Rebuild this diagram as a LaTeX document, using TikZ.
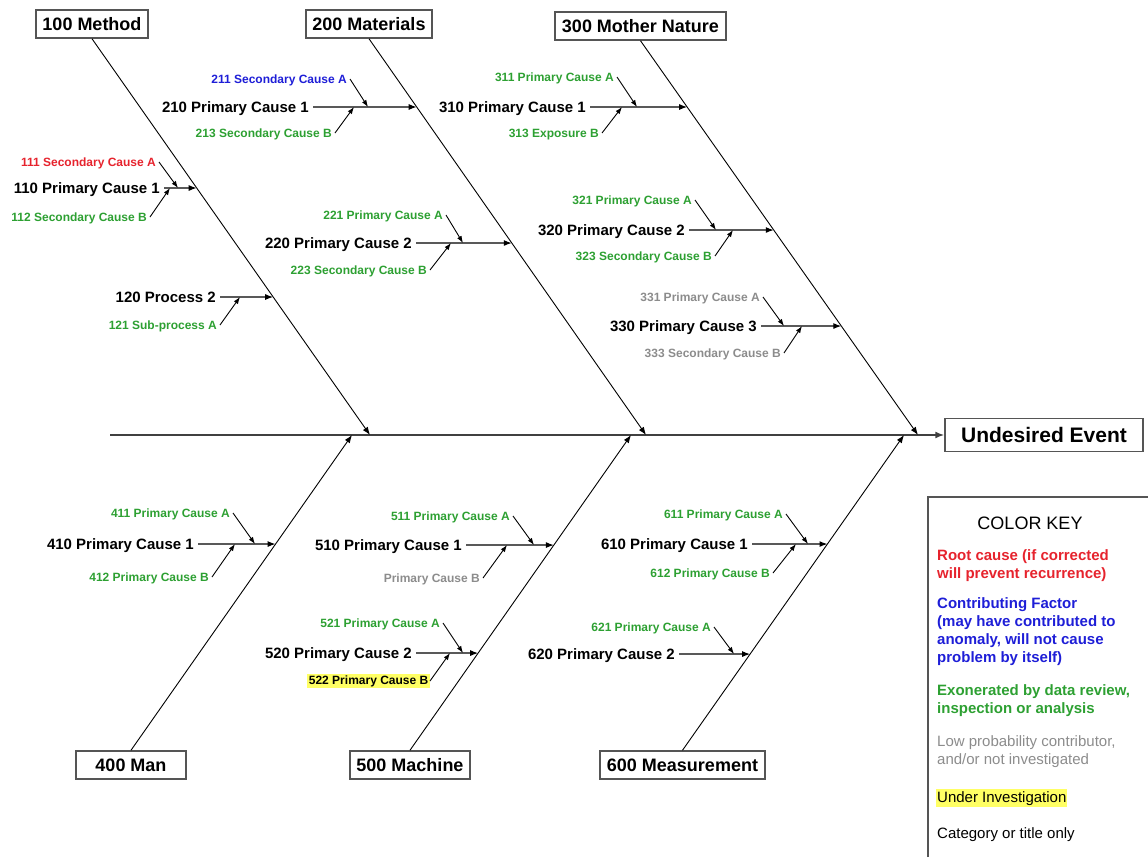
\documentclass[tikz,border=0pt]{standalone}
\usepackage{fontspec}
\setmainfont{Liberation Sans}
\usepackage{tikz}
\usetikzlibrary{arrows.meta, calc}
\definecolor{rootRed}{RGB}{230,35,45}
\definecolor{factorBlue}{RGB}{30,30,215}
\definecolor{clearedGreen}{RGB}{45,160,50}
\definecolor{lowGray}{RGB}{140,140,140}
\definecolor{probeYellow}{RGB}{255,255,100}
\definecolor{boxGray}{RGB}{85,85,85}

\begin{document}
\begin{tikzpicture}[x=1pt, y=-1pt,
	catBox/.style={draw=boxGray, line width=1.5pt, minimum height=28pt, inner sep=0pt, font=\fontsize{18}{20}\selectfont\bfseries},
	primLabel/.style={anchor=east, inner xsep=4pt, inner ysep=0pt, text height=10.7pt, text depth=0pt, font=\fontsize{15}{17}\selectfont\bfseries},
	secLabel/.style={anchor=east, inner xsep=3pt, inner ysep=0pt, text height=8.6pt, text depth=0pt, font=\fontsize{12}{14}\selectfont\bfseries},
	spine/.style={line width=1.6pt, draw=black!75, -{Latex[length=9pt,width=7pt]}},
	bone/.style={line width=0.9pt, -{Latex[length=8pt,width=6pt]}},
	primLine/.style={line width=1.2pt, -{Latex[length=8pt,width=6pt]}},
	secArrow/.style={line width=0.9pt, -{Latex[length=7pt,width=5pt]}},
	keyText/.style={anchor=north west, inner sep=0pt, align=left, font=\fontsize{15}{18}\selectfont},
	keyBold/.style={keyText, font=\fontsize{15}{18}\selectfont\bfseries}
]
\useasboundingbox (0,0) rectangle (1148,857);

% Draw category boxes
\node[catBox, minimum width=112pt] (cat100) at (92,24) {100 Method};
\node[catBox, minimum width=126pt] (cat200) at (369,24) {200 Materials};
\node[catBox, minimum width=171pt] (cat300) at (640.5,26) {300 Mother Nature};
\node[catBox, minimum width=110pt] (cat400) at (131,765) {400 Man};
\node[catBox, minimum width=120pt] (cat500) at (410,765) {500 Machine};
\node[catBox, minimum width=165pt] (cat600) at (682.5,765) {600 Measurement};
\node[catBox, minimum width=198pt, minimum height=33pt, font=\fontsize{21}{24}\selectfont\bfseries] (event) at (1044,435) {Undesired Event};

% Draw spine and bones
\coordinate (tail) at (110,435);
\coordinate (j100) at (370,435);
\coordinate (j200) at (646,435);
\coordinate (j300) at (918,435);
\coordinate (j400) at (352,435);
\coordinate (j500) at (631,435);
\coordinate (j600) at (904,435);
\draw[spine] (tail) -- (event.west);
\draw[bone] (cat100.south) -- (j100);
\draw[bone] (cat200.south) -- (j200);
\draw[bone] (cat300.south) -- (j300);
\draw[bone] (cat400.north) -- (j400);
\draw[bone] (cat500.north) -- (j500);
\draw[bone] (cat600.north) -- (j600);

% Method
\node[primLabel] (prim110) at (164,188) {110 Primary Cause 1};
\draw[primLine] (prim110.east) -- (intersection of cat100.south--j100 and prim110.west--prim110.east);
\node[secLabel, text=rootRed] (sec111) at (159,162) {111 Secondary Cause A};
\draw[secArrow] (sec111.east) -- (prim110.east -| 178,0);
\node[secLabel, text=clearedGreen] (sec112) at (150,217) {112 Secondary Cause B};
\draw[secArrow] (sec112.east) -- (prim110.east -| 170,0);
\node[primLabel] (prim120) at (220,297) {120 Process 2};
\draw[primLine] (prim120.east) -- (intersection of cat100.south--j100 and prim120.west--prim120.east);
\node[secLabel, text=clearedGreen] (sec121) at (220,325) {121 Sub-process A};
\draw[secArrow] (sec121.east) -- (prim120.east -| 240,0);

% Materials
\node[primLabel] (prim210) at (313,107) {210 Primary Cause 1};
\draw[primLine] (prim210.east) -- (intersection of cat200.south--j200 and prim210.west--prim210.east);
\node[secLabel, text=factorBlue] (sec211) at (350,79) {211 Secondary Cause A};
\draw[secArrow] (sec211.east) -- (prim210.east -| 368,0);
\node[secLabel, text=clearedGreen] (sec213) at (335,133) {213 Secondary Cause B};
\draw[secArrow] (sec213.east) -- (prim210.east -| 354,0);
\node[primLabel] (prim220) at (416,243) {220 Primary Cause 2};
\draw[primLine] (prim220.east) -- (intersection of cat200.south--j200 and prim220.west--prim220.east);
\node[secLabel, text=clearedGreen] (sec221) at (446,215) {221 Primary Cause A};
\draw[secArrow] (sec221.east) -- (prim220.east -| 463,0);
\node[secLabel, text=clearedGreen] (sec223) at (430,270) {223 Secondary Cause B};
\draw[secArrow] (sec223.east) -- (prim220.east -| 451,0);

% Mother Nature
\node[primLabel] (prim310) at (590,107) {310 Primary Cause 1};
\draw[primLine] (prim310.east) -- (intersection of cat300.south--j300 and prim310.west--prim310.east);
\node[secLabel, text=clearedGreen] (sec311) at (617,77) {311 Primary Cause A};
\draw[secArrow] (sec311.east) -- (prim310.east -| 637,0);
\node[secLabel, text=clearedGreen] (sec313) at (602,133) {313 Exposure B};
\draw[secArrow] (sec313.east) -- (prim310.east -| 622,0);
\node[primLabel] (prim320) at (689,230) {320 Primary Cause 2};
\draw[primLine] (prim320.east) -- (intersection of cat300.south--j300 and prim320.west--prim320.east);
\node[secLabel, text=clearedGreen] (sec321) at (695,200) {321 Primary Cause A};
\draw[secArrow] (sec321.east) -- (prim320.east -| 716,0);
\node[secLabel, text=clearedGreen] (sec323) at (715,256) {323 Secondary Cause B};
\draw[secArrow] (sec323.east) -- (prim320.east -| 733,0);
\node[primLabel] (prim330) at (761,326) {330 Primary Cause 3};
\draw[primLine] (prim330.east) -- (intersection of cat300.south--j300 and prim330.west--prim330.east);
\node[secLabel, text=lowGray] (sec331) at (763,297) {331 Primary Cause A};
\draw[secArrow] (sec331.east) -- (prim330.east -| 784,0);
\node[secLabel, text=lowGray] (sec333) at (784,353) {333 Secondary Cause B};
\draw[secArrow] (sec333.east) -- (prim330.east -| 802,0);

% Man
\node[primLabel] (prim410) at (198,544) {410 Primary Cause 1};
\draw[primLine] (prim410.east) -- (intersection of cat400.north--j400 and prim410.west--prim410.east);
\node[secLabel, text=clearedGreen] (sec411) at (233,513) {411 Primary Cause A};
\draw[secArrow] (sec411.east) -- (prim410.east -| 255,0);
\node[secLabel, text=clearedGreen] (sec412) at (212,577) {412 Primary Cause B};
\draw[secArrow] (sec412.east) -- (prim410.east -| 235,0);

% Machine
\node[primLabel] (prim510) at (466,545) {510 Primary Cause 1};
\draw[primLine] (prim510.east) -- (intersection of cat500.north--j500 and prim510.west--prim510.east);
\node[secLabel, text=clearedGreen] (sec511) at (513,516) {511 Primary Cause A};
\draw[secArrow] (sec511.east) -- (prim510.east -| 534,0);
\node[secLabel, text=lowGray] (sec51b) at (483,578) {Primary Cause B};
\draw[secArrow] (sec51b.east) -- (prim510.east -| 507,0);
\node[primLabel] (prim520) at (416,653) {520 Primary Cause 2};
\draw[primLine] (prim520.east) -- (intersection of cat500.north--j500 and prim520.west--prim520.east);
\node[secLabel, text=clearedGreen] (sec521) at (443,623) {521 Primary Cause A};
\draw[secArrow] (sec521.east) -- (prim520.east -| 463,0);
\node[secLabel, fill=probeYellow, inner xsep=1.5pt, inner ysep=1.5pt, text depth=2.5pt] (sec522) at (430,681) {522 Primary Cause B};
\draw[secArrow] (sec522.east) -- (prim520.east -| 450,0);

% Measurement
\node[primLabel] (prim610) at (752,544) {610 Primary Cause 1};
\draw[primLine] (prim610.east) -- (intersection of cat600.north--j600 and prim610.west--prim610.east);
\node[secLabel, text=clearedGreen] (sec611) at (786,514) {611 Primary Cause A};
\draw[secArrow] (sec611.east) -- (prim610.east -| 808,0);
\node[secLabel, text=clearedGreen] (sec612) at (773,573) {612 Primary Cause B};
\draw[secArrow] (sec612.east) -- (prim610.east -| 796,0);
\node[primLabel] (prim620) at (679,654) {620 Primary Cause 2};
\draw[primLine] (prim620.east) -- (intersection of cat600.north--j600 and prim620.west--prim620.east);
\node[secLabel, text=clearedGreen] (sec621) at (714,627) {621 Primary Cause A};
\draw[secArrow] (sec621.east) -- (prim620.east -| 734,0);

% Draw color key
\draw[draw=boxGray, line width=1.2pt] (928,857) -- (928,497) -- (1148,497);
\node[font=\fontsize{18}{20}\selectfont] (keyTitle) at (1030,523) {COLOR KEY};
\node[keyBold, text=rootRed] (keyRoot) at (937,549) {Root cause (if corrected\\will prevent recurrence)};
\node[keyBold, text=factorBlue] (keyFactor) at (937,597) {Contributing Factor\\(may have contributed to\\anomaly, will not cause\\problem by itself)};
\node[keyBold, text=clearedGreen] (keyCleared) at (937,684) {Exonerated by data review,\\inspection or analysis};
\node[keyText, text=lowGray] (keyLow) at (937,735) {Low probability contributor,\\and/or not investigated};
\node[anchor=west, inner xsep=1pt, inner ysep=1pt, text height=12pt, text depth=4pt, fill=probeYellow, font=\fontsize{15}{18}\selectfont] (keyProbe) at (936,798) {Under Investigation};
\node[anchor=base west, inner sep=0pt, font=\fontsize{15}{18}\selectfont] (keyCat) at (937,838.5) {Category or title only};
\end{tikzpicture}
\end{document}
